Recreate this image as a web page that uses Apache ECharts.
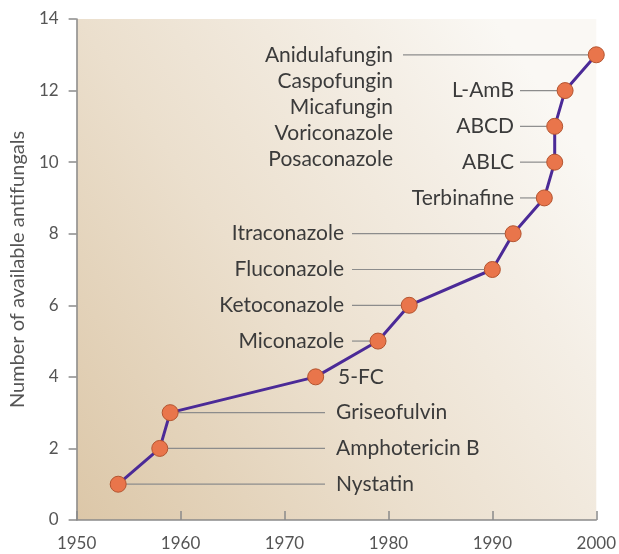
<!DOCTYPE html>
<html>
<head>
<meta charset="utf-8">
<script src="https://cdn.jsdelivr.net/npm/echarts@6/dist/echarts.min.js"></script>
<style>
  html, body { margin: 0; background: #fff; }
  #chart { width: 619px; height: 554px; }
</style>
</head>
<body>
<div id="chart"></div>
<script>
// approval year of each antifungal and the running count
const drugs = [
  'Nystatin', 'Amphotericin B', 'Griseofulvin', '5-FC', 'Miconazole',
  'Ketoconazole', 'Fluconazole', 'Itraconazole', 'Terbinafine',
  'ABLC', 'ABCD', 'L-AmB',
  'Anidulafungin\nCaspofungin\nMicafungin\nVoriconazole\nPosaconazole'
]
const years = [1954, 1958, 1959, 1973, 1979, 1982, 1990, 1992, 1995, 1996, 1996, 1997, 2000]
const counts = [1, 2, 3, 4, 5, 6, 7, 8, 9, 10, 11, 12, 13]
const xTicks = [1950, 1960, 1970, 1980, 1990, 2000]
const yTicks = [0, 2, 4, 6, 8, 10, 12, 14]

const font = 'Lato, "Open Sans", sans-serif'
const textColor = '#3b3b3b'
const guideColor = '#8c8c8c'
const rowH = 26

// where each label sits (pixel x of the text edge) and its padding
function labelPlace(i) {
  if (i <= 2) return { x: 336, align: 'left', padding: [0, 0, 0, 11] }
  if (i === 3) return { x: 338, align: 'left', padding: 0 }
  if (i <= 7) return { x: 344, align: 'right', padding: [0, 8, 0, 0] }
  if (i <= 11) return { x: 514, align: 'right', padding: [0, 6, 0, 0] }
  // stacked label: top padding = the rows below, so the guide meets row one
  return { x: 393, align: 'right', padding: [rowH * 4, 10, 0, 0], stacked: true }
}

const chart = echarts.init(document.getElementById('chart'))

chart.setOption({
  animation: false,
  textStyle: { fontFamily: font },
  grid: {
    left: 74, right: 22, top: 19, bottom: 34,
    show: true,
    borderWidth: 0,
    backgroundColor: new echarts.graphic.LinearGradient(0, 1, 1, 0.3, [
      { offset: 0, color: '#dcc7a8' },
      { offset: 0.45, color: '#ebdfcd' },
      { offset: 0.8, color: '#f4eee5' },
      { offset: 1, color: '#faf8f4' }
    ])
  },
  xAxis: {
    type: 'value',
    min: xTicks[0], max: xTicks[xTicks.length - 1], interval: 10,
    axisLine: { show: true, lineStyle: { color: '#8a8a8a', width: 1.5 } },
    axisTick: { show: true, inside: true, length: 9, lineStyle: { color: '#8a8a8a', width: 1.5 } },
    axisLabel: { color: '#555', fontSize: 17, margin: 15, fontFamily: font, formatter: v => String(v) },
    splitLine: { show: false }
  },
  yAxis: {
    type: 'value',
    min: yTicks[0], max: yTicks[yTicks.length - 1], interval: 2,
    name: 'Number of available antifungals',
    nameLocation: 'middle',
    nameGap: 32,
    nameTextStyle: { color: '#555', fontSize: 20, fontFamily: font },
    axisLine: { show: true, lineStyle: { color: '#8a8a8a', width: 1.5 } },
    axisTick: { show: true, length: 8, lineStyle: { color: '#8a8a8a', width: 1.5 } },
    axisLabel: { color: '#555', fontSize: 17, margin: 18, fontFamily: font },
    splitLine: { show: false }
  },
  series: [{
    type: 'line',
    data: years.map((y, i) => ({
      value: [y, counts[i]],
      name: drugs[i],
      label: { padding: labelPlace(i).padding },
      labelLine: { show: i !== 3 }
    })),
    lineStyle: { color: '#4b2a97', width: 3 },
    symbol: 'circle',
    symbolSize: 16,
    itemStyle: { color: '#e9754b', borderColor: '#b4542f', borderWidth: 1 },
    z: 3,
    label: {
      show: true,
      formatter: p => p.name,
      color: textColor,
      fontSize: 21,
      lineHeight: rowH,
      fontFamily: font
    },
    labelLine: {
      show: true,
      lineStyle: { color: guideColor, width: 1.2 }
    },
    labelLayout: params => {
      const pl = labelPlace(params.dataIndex)
      const pad = Array.isArray(pl.padding) ? pl.padding : [0, 0, 0, 0]
      const cy = params.rect.y + params.rect.height / 2
      return {
        x: pl.x + (pl.align === 'left' ? -pad[3] : pad[1]),
        y: pl.stacked ? cy - pad[0] - rowH / 2 : cy,
        align: pl.align,
        verticalAlign: pl.stacked ? 'top' : 'middle'
      }
    }
  }]
})
</script>
</body>
</html>
